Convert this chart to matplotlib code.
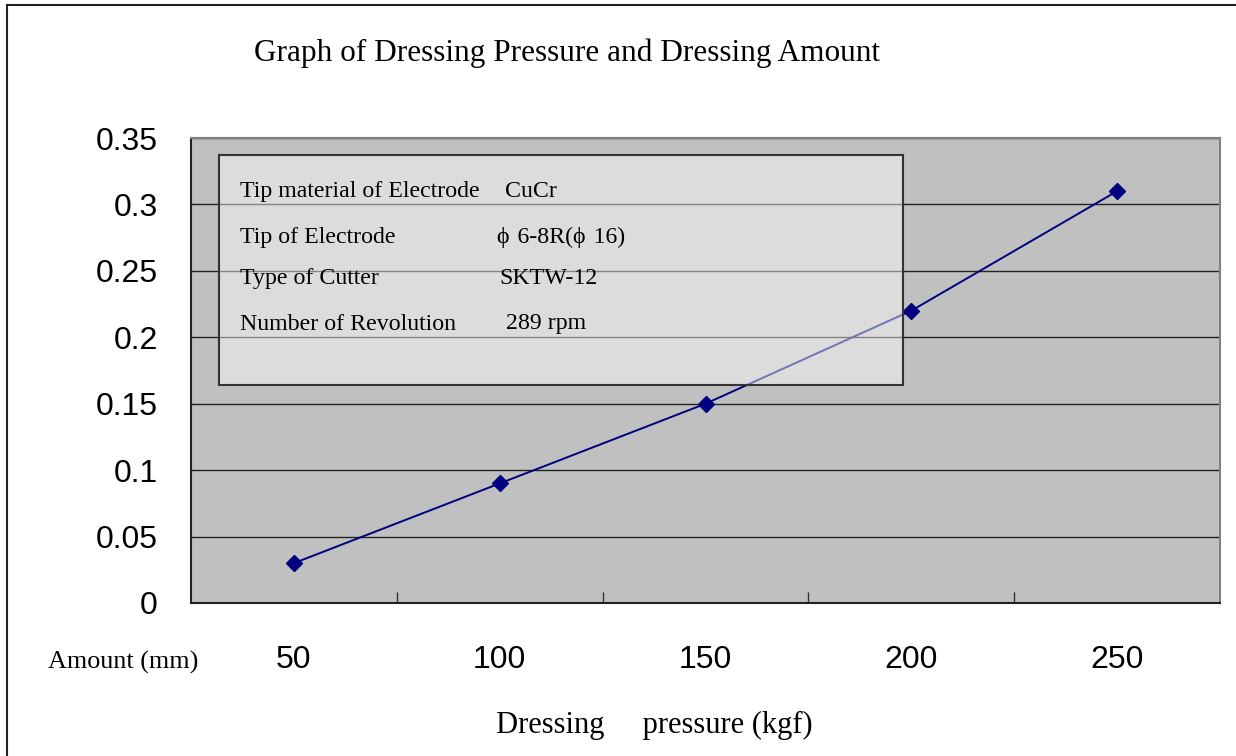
import matplotlib.pyplot as plt
from matplotlib.patches import Rectangle
from matplotlib.lines import Line2D

# dressing pressure (kgf) vs dressing amount (mm)
pressure = ['50', '100', '150', '200', '250']
amount = [0.03, 0.09, 0.15, 0.22, 0.31]
yticks = [0, 0.05, 0.1, 0.15, 0.2, 0.25, 0.3, 0.35]
ytick_labels = ['0', '0.05', '0.1', '0.15', '0.2', '0.25', '0.3', '0.35']

# conditions printed in the box
cond_names = ['Tip material of Electrode', 'Tip of Electrode', 'Type of Cutter',
              'Number of Revolution']
cond_values = ['CuCr', '\u03d5\u20046-8R(\u03d5\u200416)', 'SKTW-12', '289 rpm']

serif = ['Liberation Serif', 'DejaVu Serif']
sans = ['Liberation Sans', 'DejaVu Sans']

fig = plt.figure(figsize=(12.36, 7.56), dpi=100)
ax = fig.add_axes([191 / 1236, 1 - 603 / 756, 1029 / 1236, 465 / 756])
ax.set_facecolor('#c0c0c0')

x = range(len(pressure))
ax.plot(x, amount, color='#000080', lw=1.4, marker='D', ms=8, zorder=3)

ax.set_xlim(-0.5, len(pressure) - 0.5)
ax.set_ylim(0, 0.35)

# category ticks sit between the points, labels under each point
ax.set_xticks([i + 0.5 for i in range(len(pressure) - 1)], minor=False)
ax.set_xticklabels([])
ax.set_xticks(list(x), minor=True)
ax.set_xticklabels(pressure, minor=True, fontsize=23, family=sans)
ax.tick_params(axis='x', which='major', direction='in', length=8, width=1, color='#333333')
ax.tick_params(axis='x', which='minor', length=0, pad=30)

ax.set_yticks(yticks)
ax.set_yticklabels(ytick_labels, fontsize=23, family=sans)
ax.tick_params(axis='y', length=0, pad=24)

ax.yaxis.grid(True, color='#222222', lw=1)
ax.set_axisbelow(True)

for side in ['top', 'right']:
    ax.spines[side].set_color('#808080')
    ax.spines[side].set_linewidth(1.5)
for side in ['left', 'bottom']:
    ax.spines[side].set_color('#222222')
    ax.spines[side].set_linewidth(1.5)

# translucent box with the test conditions
box = Rectangle((0.0272, 0.469), 0.665, 0.494, transform=ax.transAxes,
                facecolor='white', alpha=0.45, edgecolor='none', zorder=4)
ax.add_patch(box)
ax.add_patch(Rectangle((0.0272, 0.469), 0.665, 0.494, transform=ax.transAxes,
                       facecolor='none', edgecolor='#333333', lw=1.5, zorder=5))
rows_y = [0.884, 0.787, 0.697, 0.600]
vals_x = [0.305, 0.297, 0.300, 0.306]
for name, val, yy, vx in zip(cond_names, cond_values, rows_y, vals_x):
    ax.text(0.0476, yy, name, transform=ax.transAxes, fontsize=17.2,
            family=serif, va='center', ha='left', zorder=6)
    ax.text(vx, yy, val, transform=ax.transAxes, fontsize=17.2,
            family=serif, va='center', ha='left', zorder=6)

fig.text(567 / 1236, 1 - 53 / 756, 'Graph of Dressing Pressure and Dressing Amount',
         fontsize=22.5, family=serif, ha='center', va='center')
fig.text(48 / 1236, 1 - 662 / 756, 'Amount (mm)', fontsize=18.8, family=serif,
         ha='left', va='center')
fig.text(654 / 1236, 1 - 725 / 756, 'Dressing\u2003 pressure (kgf)', fontsize=22,
         family=serif, ha='center', va='center')

# chart frame (left and top edges)
fig.add_artist(Line2D([7 / 1236, 7 / 1236], [0, 1 - 5 / 756], color='#222222', lw=1.5))
fig.add_artist(Line2D([7 / 1236, 1], [1 - 5 / 756, 1 - 5 / 756], color='#222222', lw=1.5))

fig.savefig('out.png', dpi=100)
